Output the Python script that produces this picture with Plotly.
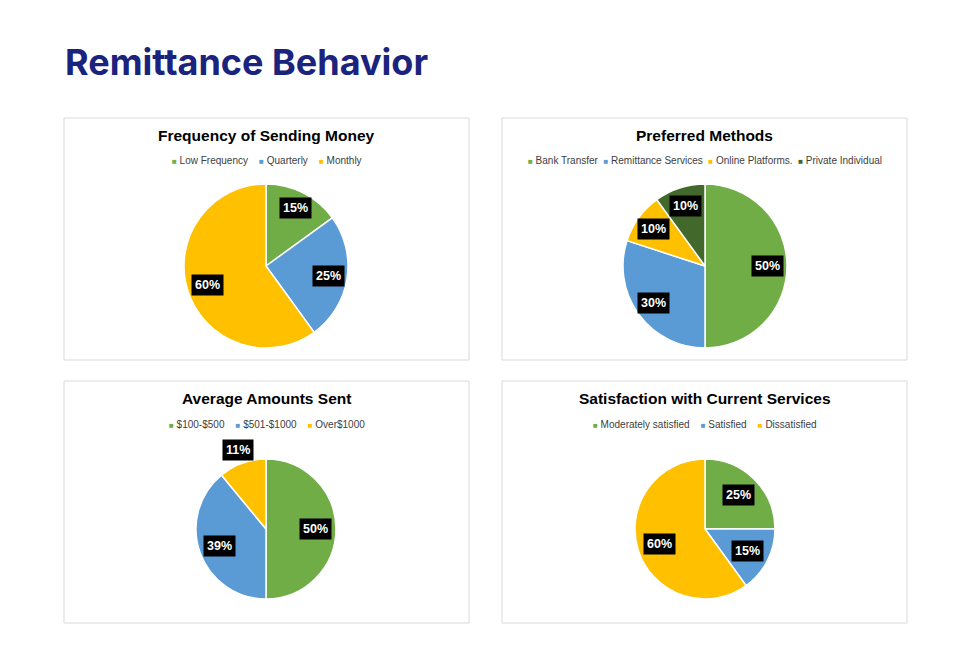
import math
import plotly.graph_objects as go

W, H = 971, 670
OFF = 8  # page body margin

# ---- data ----
freq_labels = ["Low Frequency", "Quarterly", "Monthly"]
freq_values = [15, 25, 60]

method_labels = ["Bank Transfer", "Remittance Services", "Online Platforms.", "Private Individual"]
method_values = [50, 30, 10, 10]

amount_labels = ["$100-$500", "$501-$1000", "Over$1000"]
amount_values = [50, 39, 11]

satis_labels = ["Moderately satisfied", "Satisfied", "Dissatisfied"]
satis_values = [25, 15, 60]

GREEN = "#70ad47"
BLUE = "#5b9bd5"
ORANGE = "#ffc000"
DKGREEN = "#43682b"

panels = [
    dict(title="Frequency of Sending Money", labels=freq_labels, values=freq_values,
         colors=[GREEN, BLUE, ORANGE], box=(64, 118, 469, 360), c=(266, 266), r=82,
         lr=[0.8, 0.77, 0.75]),
    dict(title="Preferred Methods", labels=method_labels, values=method_values,
         colors=[GREEN, BLUE, ORANGE, DKGREEN], box=(502, 118, 907, 360), c=(705, 266), r=82,
         lr=[0.76, 0.77, 0.77, 0.77]),
    dict(title="Average Amounts Sent", labels=amount_labels, values=amount_values,
         colors=[GREEN, BLUE, ORANGE], box=(64, 381, 469, 623), c=(266, 529), r=70,
         lr=[0.7, 0.7, 1.2]),
    dict(title="Satisfaction with Current Services", labels=satis_labels, values=satis_values,
         colors=[GREEN, BLUE, ORANGE], box=(502, 381, 907, 623), c=(705, 529), r=70,
         lr=[0.68, 0.68, 0.68]),
]


def px(x):
    return (x - OFF) / W


def py(y):
    return 1 - (y - OFF) / H


fig = go.Figure()
shapes = []
annotations = []

for p in panels:
    cx, cy = p["c"]
    r = p["r"]
    fig.add_trace(go.Pie(
        labels=p["labels"], values=p["values"], sort=False, direction="clockwise",
        rotation=0, marker=dict(colors=p["colors"], line=dict(color="white", width=1.5)),
        textinfo="none", hoverinfo="label+percent", showlegend=False,
        domain=dict(x=[px(cx - r), px(cx + r)], y=[py(cy + r), py(cy - r)]),
    ))
    x0, y0, x1, y1 = p["box"]
    shapes.append(dict(type="rect", xref="paper", yref="paper",
                       x0=px(x0), x1=px(x1), y0=py(y1), y1=py(y0),
                       line=dict(color="#d9d9d9", width=1), fillcolor="white", layer="below"))
    mx = (x0 + x1) / 2
    annotations.append(dict(text="<b>" + p["title"] + "</b>", x=px(mx), y=py(y0 + 17),
                            xref="paper", yref="paper", showarrow=False,
                            xanchor="center", yanchor="middle",
                            font=dict(family="Liberation Sans, Arial", size=15.5, color="#000000")))
    items = []
    for lab, col in zip(p["labels"], p["colors"]):
        items.append("<span style='color:%s;font-size:8px'>■</span> %s" % (col, lab))
    sep = "\u00a0" * 4 if len(p["labels"]) == 3 else "\u00a0\u00a0"
    annotations.append(dict(text=sep.join(items), x=px(mx), y=py(y0 + 43),
                            xref="paper", yref="paper", showarrow=False,
                            xanchor="center", yanchor="middle",
                            font=dict(family="Liberation Sans, Arial", size=10, color="#404040")))
    total = sum(p["values"])
    cum = 0
    for v, f in zip(p["values"], p["lr"]):
        mid = (cum + v / 2) / total * 2 * math.pi
        cum += v
        lx = cx + f * r * math.sin(mid)
        ly = cy - f * r * math.cos(mid)
        annotations.append(dict(text="<b>%d%%</b>" % round(v / total * 100), x=px(lx), y=py(ly),
                                xref="paper", yref="paper", showarrow=False,
                                xanchor="center", yanchor="middle", bgcolor="#000000",
                                borderpad=3,
                                font=dict(family="Liberation Sans, Arial", size=12.5, color="white")))

annotations.append(dict(text="<b>Remittance Behavior</b>", x=px(63), y=py(62),
                        xref="paper", yref="paper", showarrow=False,
                        xanchor="left", yanchor="middle",
                        font=dict(family="Inter", size=36, color="#1a237e")))

fig.update_layout(width=W, height=H, margin=dict(l=0, r=0, t=0, b=0),
                  paper_bgcolor="white", plot_bgcolor="white",
                  shapes=shapes, annotations=annotations)

fig.write_html("out.html")
